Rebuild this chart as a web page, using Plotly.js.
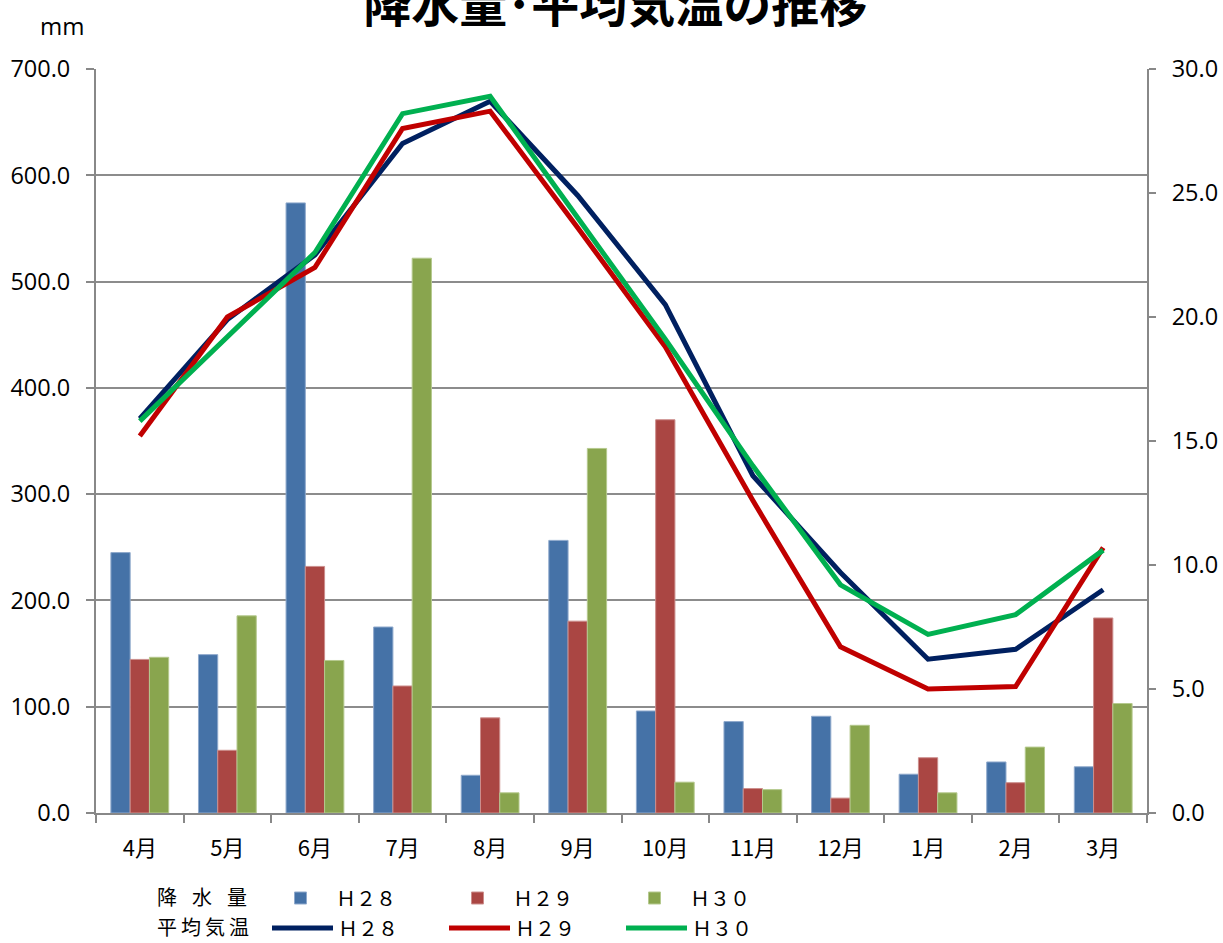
<!DOCTYPE html>
<html>
<head>
<meta charset="utf-8">
<script src="https://cdn.plot.ly/plotly-3.0.1.min.js"></script>
<style>
html,body{margin:0;padding:0;background:#fff;}
#chart{width:1223px;height:943px;}
</style>
</head>
<body>
<div id="chart"></div>
<script>
var months = ['4月','5月','6月','7月','8月','9月','10月','11月','12月','1月','2月','3月'];
var seriesNames = ['Ｈ２８','Ｈ２９','Ｈ３０'];
var rainH28 = [245, 149, 574, 175, 35.5, 256.5, 96, 86, 91, 36.5, 48, 43.5];
var rainH29 = [144.5, 59, 232, 119.5, 89.5, 180.5, 370, 23, 14, 52, 28.5, 183.5];
var rainH30 = [146.5, 185.5, 143.5, 522, 19, 343, 29, 22, 82.5, 19, 62, 103];
var tempH28 = [15.9, 19.9, 22.5, 27.0, 28.7, 24.9, 20.5, 13.6, 9.7, 6.2, 6.6, 9.0];
var tempH29 = [15.2, 20.0, 22.0, 27.6, 28.3, 23.6, 18.8, 12.6, 6.7, 5.0, 5.1, 10.7];
var tempH30 = [15.8, 19.2, 22.6, 28.2, 28.9, 24.0, 19.1, 14.0, 9.2, 7.2, 8.0, 10.6];
var leftTicks = [0, 100, 200, 300, 400, 500, 600, 700];
var rightTicks = [0, 5, 10, 15, 20, 25, 30];

var barColors = ['#4572A7', '#AA4643', '#89A54E'];
var barEdges = ['#8FA9CC', '#CC8E8C', '#B5C98E'];
var lineColors = ['#002060', '#C00000', '#00B050'];
var jp = '"Noto Sans CJK JP", "Noto Sans", sans-serif';
var num = '"Open Sans", "Noto Sans", sans-serif';

var rains = [rainH28, rainH29, rainH30];
var temps = [tempH28, tempH29, tempH30];
var traces = [];
rains.forEach(function (v, i) {
  traces.push({
    type: 'bar', x: months, y: v, name: seriesNames[i],
    marker: {color: barColors[i], line: {color: barEdges[i], width: 1}},
    legend: 'legend', hoverinfo: 'x+y'
  });
});
temps.forEach(function (v, i) {
  traces.push({
    type: 'scatter', mode: 'lines', x: months, y: v, name: seriesNames[i],
    yaxis: 'y2', line: {color: lineColors[i], width: 5},
    legend: 'legend2', hoverinfo: 'x+y'
  });
});

var legendCommon = {
  orientation: 'h', xref: 'container', yref: 'container',
  xanchor: 'left', yanchor: 'middle',
  font: {family: jp, size: 20, color: '#000'},
  itemwidth: 61,
  entrywidth: 101, entrywidthmode: 'pixels',
  bgcolor: 'rgba(0,0,0,0)', borderwidth: 0, traceorder: 'normal',
  itemclick: false, itemdoubleclick: false
};

var layout = {
  width: 1223, height: 943,
  paper_bgcolor: '#fff', plot_bgcolor: '#fff',
  margin: {l: 96, r: 76, t: 69, b: 130},
  font: {family: jp, color: '#000'},
  title: {
    text: '<b>降水量･平均気温の推移</b>',
    font: {family: jp, size: 48, color: '#000'},
    x: 0.503, xanchor: 'center', xref: 'container',
    y: 1 - 5 / 943, yref: 'container', yanchor: 'middle'
  },
  barmode: 'group', bargap: 0.34, bargroupgap: 0,
  xaxis: {
    type: 'category', showgrid: false,
    showline: true, linecolor: '#888', linewidth: 2,
    ticks: 'outside', tickson: 'boundaries', ticklen: 8, tickwidth: 2, tickcolor: '#888',
    tickfont: {family: jp, size: 22, color: '#000'},
    ticklabelstandoff: 15
  },
  yaxis: {
    range: [0, 700], tickvals: leftTicks, tickformat: '.1f',
    showgrid: true, gridcolor: '#8c8c8c', gridwidth: 2,
    showline: true, linecolor: '#888', linewidth: 2,
    ticks: 'outside', ticklen: 8, tickwidth: 2, tickcolor: '#888',
    tickfont: {family: num, size: 23.5, color: '#000'},
    ticklabelstandoff: 11, zeroline: false
  },
  yaxis2: {
    range: [0, 30], tickvals: rightTicks, tickformat: '.1f',
    overlaying: 'y', side: 'right', showgrid: false,
    showline: true, linecolor: '#888', linewidth: 2,
    ticks: 'outside', ticklen: 7, tickwidth: 2, tickcolor: '#888',
    tickfont: {family: num, size: 23.5, color: '#000'},
    ticklabelstandoff: 11, zeroline: false
  },
  legend: Object.assign({}, legendCommon, {
    x: 155 / 1223, y: 1 - 898 / 943,
    title: {text: '降\u2002\u2005水\u2002\u2005量\u2002', side: 'left', font: {family: jp, size: 20, color: '#000'}}
  }),
  legend2: Object.assign({}, legendCommon, {
    x: 155 / 1223, y: 1 - 928 / 943,
    title: {text: '平\u2009均\u2009気\u2009温\u2002', side: 'left', font: {family: jp, size: 20, color: '#000'}}
  }),
  annotations: [{
    text: 'mm', xref: 'paper', yref: 'paper', x: -0.0323, y: 1.059,
    xanchor: 'center', yanchor: 'middle', showarrow: false,
    font: {family: num, size: 24, color: '#000'}
  }]
};

Plotly.newPlot('chart', traces, layout, {displayModeBar: false, staticPlot: true});
</script>
</body>
</html>
